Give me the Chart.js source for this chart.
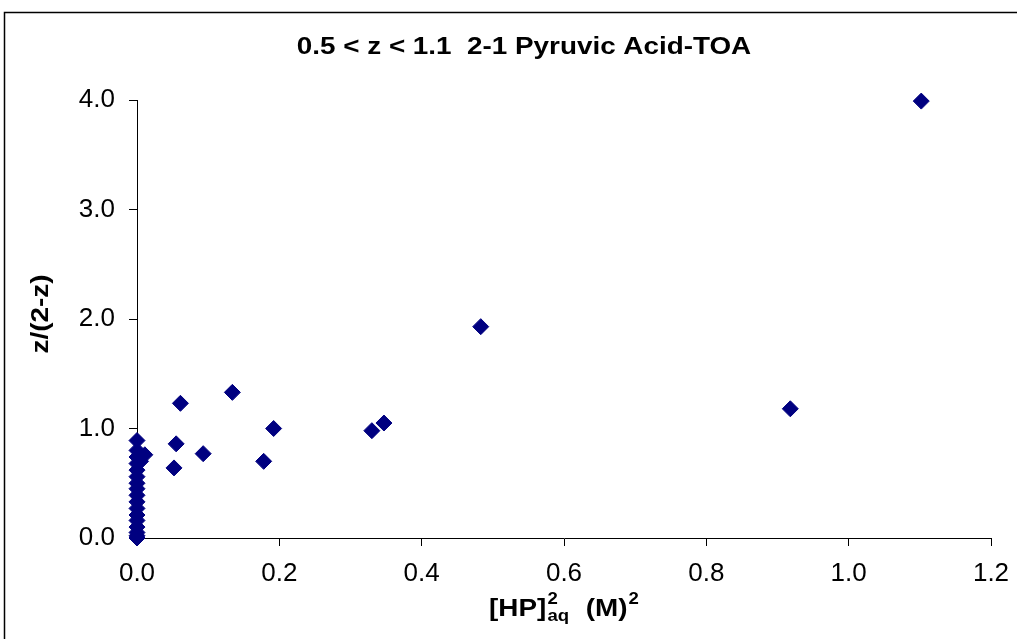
<!DOCTYPE html>
<html>
<head>
<meta charset="utf-8">
<script src="https://cdn.jsdelivr.net/npm/chart.js@4/dist/chart.umd.min.js"></script>
<style>
  html, body { margin: 0; padding: 0; background: #fff; }
  #wrap { position: relative; width: 1017px; height: 639px; }
</style>
</head>
<body>
<div id="wrap"><canvas id="c" width="1017" height="639"></canvas></div>
<script>
/* data */
const chartTitle = '0.5 < z < 1.1  2-1 Pyruvic Acid-TOA';
const yTitle = 'z/(2-z)';
const xValues = [1.102, 0.918, 0.483, 0.347, 0.330, 0.192, 0.178, 0.134, 0.093, 0.061, 0.055, 0.052,
  0.011, 0.005,
  0, 0, 0, 0, 0, 0, 0, 0, 0, 0, 0, 0, 0, 0, 0, 0, 0];
const yValues = [3.99, 1.18, 1.93, 1.05, 0.98, 1.00, 0.70, 1.33, 0.77, 1.23, 0.86, 0.64,
  0.76, 0.70,
  0.89, 0.80, 0.74, 0.68, 0.62, 0.56, 0.50, 0.45, 0.39, 0.33, 0.27, 0.21, 0.16, 0.10, 0.05, 0.02, 0.00];
const xTicks = [0, 0.2, 0.4, 0.6, 0.8, 1.0, 1.2];
const yTicks = [0, 1, 2, 3, 4];

const FONT = 'Liberation Sans, Arial, sans-serif';
const STRETCH = 1.16;

/* frame + titles drawn on the canvas */
const decor = {
  id: 'decor',
  afterDraw(chart) {
    const ctx = chart.ctx;
    const ca = chart.chartArea;
    ctx.save();
    ctx.strokeStyle = '#000';
    ctx.lineWidth = 1.5;
    ctx.strokeRect(4.5, 12.5, 1100, 700);

    ctx.fillStyle = '#000';
    ctx.textBaseline = 'alphabetic';
    ctx.textAlign = 'center';

    // chart title (the original font is a little wider than Arial)
    ctx.save();
    ctx.translate(524, 54);
    ctx.scale(STRETCH, 1);
    ctx.font = 'bold 24px ' + FONT;
    ctx.fillText(chartTitle, 0, 0);
    ctx.restore();

    // y axis title
    ctx.save();
    ctx.translate(48, 314);
    ctx.rotate(-Math.PI / 2);
    ctx.scale(STRETCH, 1);
    ctx.font = 'bold 24px ' + FONT;
    ctx.fillText(yTitle, 0, 0);
    ctx.restore();

    // x axis title with super/subscripts
    const big = 'bold 24px ' + FONT, small = 'bold 16px ' + FONT;
    ctx.font = big;
    const wHP = ctx.measureText('[HP]').width;
    const wM = ctx.measureText('  (M)').width;
    ctx.font = small;
    const w2 = ctx.measureText('2').width;
    const wAq = ctx.measureText('aq').width;
    const total = wHP + Math.max(w2, wAq) + 2 + wM + w2 + 1;
    const base = 616;
    ctx.save();
    ctx.translate((ca.left + ca.right) / 2, base);
    ctx.scale(STRETCH, 1);
    ctx.textAlign = 'left';
    let x = -total / 2;
    ctx.font = big; ctx.fillText('[HP]', x, 0); x += wHP;
    ctx.font = small;
    ctx.fillText('2', x + 1, -12);
    ctx.fillText('aq', x + 1, 5);
    x += Math.max(w2, wAq) + 2;
    ctx.font = big; ctx.fillText('  (M)', x, 0); x += wM;
    ctx.font = small; ctx.fillText('2', x + 1, -12);
    ctx.restore();
    ctx.restore();
  }
};

new Chart(document.getElementById('c'), {
  type: 'scatter',
  data: {
    datasets: [{
      data: xValues.map((x, i) => ({ x, y: yValues[i] })),
      pointStyle: 'rectRot',
      pointRadius: 8,
      pointHoverRadius: 8,
      backgroundColor: '#000080',
      borderColor: '#000080',
      borderWidth: 1,
      clip: false
    }]
  },
  options: {
    responsive: false,
    animation: false,
    events: [],
    layout: { padding: { left: 0, right: 26, top: 100, bottom: 0 } },
    plugins: { legend: { display: false }, tooltip: { enabled: false } },
    scales: {
      x: {
        type: 'linear', min: 0, max: 1.2,
        afterBuildTicks: s => { s.ticks = xTicks.map(v => ({ value: v })); },
        afterFit: s => { s.height = 101; s.paddingRight = 0; s.paddingLeft = 0; },
        grid: { display: true, drawOnChartArea: false, drawTicks: true, tickLength: 8, color: '#000' },
        border: { display: true, color: '#000', width: 1 },
        ticks: { color: '#000', font: { family: FONT, size: 26 }, padding: 12, maxRotation: 0,
          callback: v => v.toFixed(1) }
      },
      y: {
        type: 'linear', min: 0, max: 4,
        afterBuildTicks: s => { s.ticks = yTicks.map(v => ({ value: v })); },
        afterFit: s => { s.width = 137; s.paddingTop = 0; s.paddingBottom = 0; },
        grid: { display: true, drawOnChartArea: false, drawTicks: true, tickLength: 8, color: '#000' },
        border: { display: true, color: '#000', width: 1 },
        ticks: { color: '#000', font: { family: FONT, size: 26 }, padding: 14,
          callback: v => v.toFixed(1) }
      }
    }
  },
  plugins: [decor]
});
</script>
</body>
</html>
